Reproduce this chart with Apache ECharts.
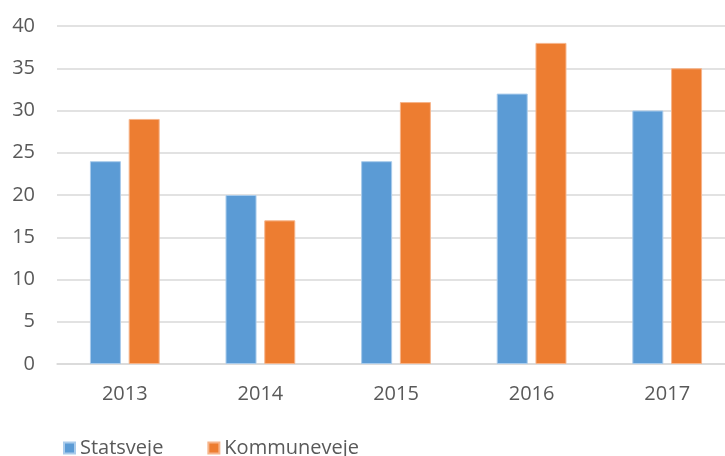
<!DOCTYPE html>
<html>
<head>
<meta charset="utf-8">
<script src="https://cdn.jsdelivr.net/npm/echarts@6/dist/echarts.min.js"></script>
<style>
  html, body { margin: 0; padding: 0; background: #fff; }
  #chart { width: 725px; height: 456px; }
</style>
</head>
<body>
<div id="chart"></div>
<script>
const years = ['2013', '2014', '2015', '2016', '2017'];
const statsveje = [24, 20, 24, 32, 30];
const kommuneveje = [29, 17, 31, 38, 35];

const chart = echarts.init(document.getElementById('chart'));
const font = '"Open Sans", "Noto Sans", sans-serif';

chart.setOption({
  backgroundColor: '#fff',
  animation: false,
  color: ['#5b9bd5', '#ed7d31'],
  textStyle: { fontFamily: font },
  grid: { left: 57, right: -10, top: 26, bottom: 92, outerBoundsMode: 'none', containLabel: false },
  legend: {
    left: 58,
    top: 433,
    icon: 'rect',
    itemWidth: 11,
    itemHeight: 11,
    itemGap: 44,
    textStyle: { fontFamily: font, fontSize: 20, color: '#595959' },
    data: ['Statsveje', 'Kommuneveje']
  },
  xAxis: {
    type: 'category',
    data: years,
    axisLine: { lineStyle: { color: '#d9d9d9', width: 1.5 } },
    axisTick: { show: false },
    axisLabel: { color: '#595959', fontSize: 20, margin: 20 }
  },
  yAxis: {
    type: 'value',
    min: 0,
    max: 40,
    interval: 5,
    axisLine: { show: false },
    axisTick: { show: false },
    splitLine: { lineStyle: { color: '#d9d9d9', width: 1.5 } },
    axisLabel: { color: '#595959', fontSize: 20, margin: 22 }
  },
  series: [
    {
      name: 'Statsveje',
      type: 'bar',
      data: statsveje,
      barWidth: 31,
      barGap: '25%',
      itemStyle: { borderColor: '#a9cbeb', borderWidth: 1 }
    },
    {
      name: 'Kommuneveje',
      type: 'bar',
      data: kommuneveje,
      barWidth: 31,
      itemStyle: { borderColor: '#f6b48a', borderWidth: 1 }
    }
  ]
});
</script>
</body>
</html>
